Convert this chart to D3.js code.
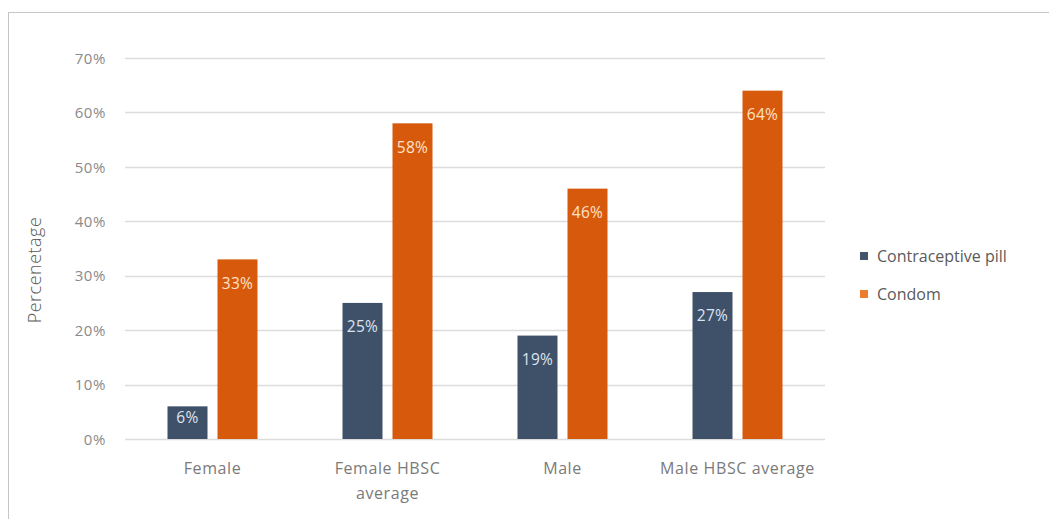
<!DOCTYPE html>
<html>
<head>
<meta charset="utf-8">
<script src="https://cdn.jsdelivr.net/npm/d3@7"></script>
<style>
  html, body { margin: 0; padding: 0; background: #fff; }
  svg { display: block; font-family: "Open Sans", "Noto Sans", sans-serif; }
</style>
</head>
<body>
<svg id="chart" width="1049" height="519"></svg>
<script>
// Contraception use at last intercourse
const categories = [["Female"], ["Female HBSC", "average"], ["Male"], ["Male HBSC average"]];
const seriesNames = ["Contraceptive pill", "Condom"];
const pillValues = [6, 25, 19, 27];
const condomValues = [33, 58, 46, 64];
const yTicks = [0, 10, 20, 30, 40, 50, 60, 70];
const yTitle = "Percenetage";

const colors = ["#3f5169", "#d75a0c"];
const legendColors = ["#44546a", "#ee7a2e"];
const labelColors = ["#dbe4ef", "#ffe2c8"];

const svg = d3.select("#chart");

// outer frame
svg.append("rect")
  .attr("x", 8.5).attr("y", 12.5)
  .attr("width", 1100).attr("height", 600)
  .attr("fill", "none").attr("stroke", "#c6c6c6").attr("stroke-width", 1);

const plot = { left: 125, right: 825, top: 58, bottom: 439 };

const x0 = d3.scaleBand()
  .domain(d3.range(categories.length))
  .range([plot.left, plot.right])
  .paddingInner(0).paddingOuter(0);

const y = d3.scaleLinear().domain([0, 70]).range([plot.bottom, plot.top]);

// gridlines
svg.append("g")
  .selectAll("line")
  .data(yTicks)
  .join("line")
  .attr("x1", plot.left).attr("x2", plot.right)
  .attr("y1", d => Math.round(y(d)) + 0.5).attr("y2", d => Math.round(y(d)) + 0.5)
  .attr("stroke", "#dcdcdc").attr("stroke-width", 1.3);

// y tick labels
const yAxis = d3.axisLeft(y).tickValues(yTicks).tickFormat(d => d + "%").tickSize(0).tickPadding(0);
const yg = svg.append("g").attr("transform", `translate(${plot.left - 19},0)`).call(yAxis);
yg.select(".domain").remove();
yg.selectAll("text")
  .attr("fill", "#8a8a8a")
  .style("font-size", "15px")
  .style("letter-spacing", "0.6px")
  .style("font-family", "'Open Sans', sans-serif")
  .attr("dy", "0.35em");

// bars
const barW = 40, gap = 10;
const rows = categories.map((c, i) => [pillValues[i], condomValues[i]]);

const groups = svg.append("g")
  .selectAll("g")
  .data(rows)
  .join("g")
  .attr("transform", (d, i) => `translate(${x0(i) + x0.bandwidth() / 2 - (barW * 2 + gap) / 2},0)`);

groups.selectAll("rect")
  .data(d => d.map((v, s) => ({ v, s })))
  .join("rect")
  .attr("x", d => d.s * (barW + gap))
  .attr("width", barW)
  .attr("y", d => y(d.v))
  .attr("height", d => y(0) - y(d.v))
  .attr("fill", d => colors[d.s]);

groups.selectAll("text")
  .data(d => d.map((v, s) => ({ v, s })))
  .join("text")
  .attr("x", d => d.s * (barW + gap) + barW / 2)
  .attr("y", d => {
    const h = y(0) - y(d.v);
    return y(d.v) + Math.min(24, h * 0.33);
  })
  .attr("dy", "0.35em")
  .attr("text-anchor", "middle")
  .attr("fill", d => labelColors[d.s])
  .style("font-size", "15.5px")
  .style("letter-spacing", "0.3px")
  .text(d => d.v + "%");

// category labels
const xl = svg.append("g");
categories.forEach((lines, i) => {
  const t = xl.append("text")
    .attr("x", x0(i) + x0.bandwidth() / 2)
    .attr("y", 474)
    .attr("text-anchor", "middle")
    .attr("fill", "#7a7a7a")
    .style("font-size", "16px")
    .style("letter-spacing", "0.6px");
  lines.forEach((ln, k) => {
    t.append("tspan")
      .attr("x", x0(i) + x0.bandwidth() / 2)
      .attr("dy", k === 0 ? 0 : 25)
      .text(ln);
  });
});

// y axis title
svg.append("text")
  .attr("transform", "translate(35,270) rotate(-90)")
  .attr("text-anchor", "middle")
  .attr("dy", "0.35em")
  .attr("fill", "#595959")
  .style("font-size", "18px")
  .style("font-weight", "300")
  .style("letter-spacing", "0.5px")
  .text(yTitle);

// legend
const legend = svg.append("g").attr("transform", "translate(860,256)");
seriesNames.forEach((name, i) => {
  const row = legend.append("g").attr("transform", `translate(0,${i * 38})`);
  row.append("rect")
    .attr("x", 0).attr("y", -4)
    .attr("width", 8).attr("height", 8)
    .attr("fill", legendColors[i]);
  row.append("text")
    .attr("x", 17).attr("y", 0)
    .attr("dy", "0.35em")
    .attr("fill", "#5a5a5a")
    .style("font-size", "16px")
    .text(name);
});
</script>
</body>
</html>
